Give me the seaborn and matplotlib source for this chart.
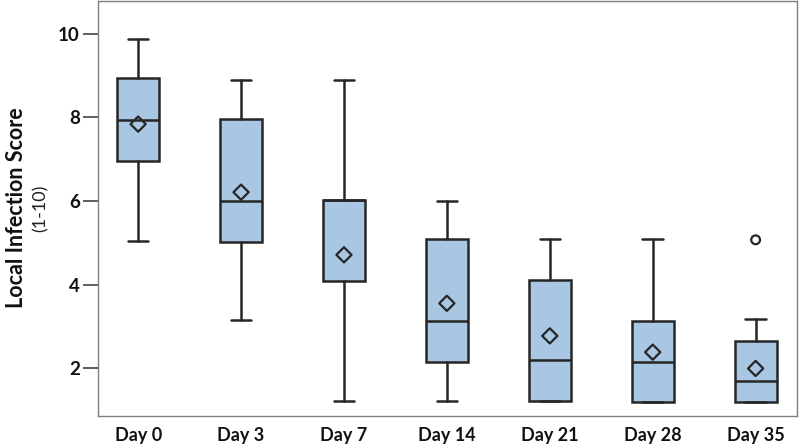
import matplotlib
matplotlib.use("Agg")
import matplotlib.pyplot as plt
import seaborn as sns
import pandas as pd

# ---- data ----
days = ["Day 0", "Day 3", "Day 7", "Day 14", "Day 21", "Day 28", "Day 35"]
whisker_low = [5.05, 3.15, 1.22, 1.22, 1.2, 1.18, 1.18]
q1 = [6.96, 5.01, 4.08, 2.15, 1.2, 1.18, 1.18]
median = [7.94, 6.01, 6.02, 3.13, 2.19, 2.14, 1.69]
q3 = [8.94, 7.96, 6.02, 5.08, 4.11, 3.13, 2.65]
whisker_high = [9.88, 8.90, 8.90, 6.0, 5.08, 5.08, 3.17]
means = [7.84, 6.21, 4.71, 3.55, 2.77, 2.38, 1.99]
outlier_day = ["Day 35"]
outlier_val = [5.07]
y_ticks = [2, 4, 6, 8, 10]

box_color = "#a9c7e3"
edge = "#262626"

sns.set_theme(style="white")
plt.rcParams["font.family"] = ["Lato", "DejaVu Sans"]

fig = plt.figure(figsize=(8, 4.45), dpi=100)
ax = fig.add_axes([0.1225, 0.065, 0.8735, 0.933])

stats = []
for i, d in enumerate(days):
    stats.append(dict(label=d, whislo=whisker_low[i], q1=q1[i], med=median[i],
                      q3=q3[i], whishi=whisker_high[i], fliers=[]))

lw = 1.8
ax.bxp(stats, positions=range(len(days)), widths=0.41, patch_artist=True,
       showfliers=False, showcaps=True,
       boxprops=dict(facecolor=box_color, edgecolor=edge, linewidth=lw),
       medianprops=dict(color=edge, linewidth=lw),
       whiskerprops=dict(color=edge, linewidth=lw),
       capprops=dict(color=edge, linewidth=lw), capwidths=0.2)

pos = {d: i for i, d in enumerate(days)}
mean_df = pd.DataFrame({"x": [pos[d] for d in days], "y": means})
sns.scatterplot(data=mean_df, x="x", y="y", marker="D", s=60,
                facecolor="none", edgecolor=edge, linewidth=1.6, ax=ax, zorder=5)
out_df = pd.DataFrame({"x": [pos[d] for d in outlier_day], "y": outlier_val})
sns.scatterplot(data=out_df, x="x", y="y", marker="o", s=40,
                facecolor="none", edgecolor=edge, linewidth=1.6, ax=ax, zorder=5)

ax.set_xlim(-0.39, 6.40)
ax.set_ylim(0.85, 10.79)
ax.set_xticks(range(len(days)))
ax.set_xticklabels(days, fontsize=13, fontweight="bold", color="#111111")
ax.set_yticks(y_ticks)
ax.set_yticklabels([str(t) for t in y_ticks], fontsize=13.5, fontweight="bold", color="#111111")
ax.tick_params(axis="x", length=0, pad=8)
ax.tick_params(axis="y", length=11, width=1.1, color="#333333", pad=2, left=True)
ax.set_xlabel("")
ax.set_ylabel("")
for s in ax.spines.values():
    s.set_color("#808080")
    s.set_linewidth(1.0)

fig.text(17 / 800, 1 - 208 / 445, "Local Infection Score", rotation=90,
         ha="center", va="center", fontsize=15.5, fontweight="bold", color="#111111")
fig.text(41 / 800, 1 - 208 / 445, "(1-10)", rotation=90,
         ha="center", va="center", fontsize=13, color="#222222")

fig.savefig("out.png", dpi=100)
